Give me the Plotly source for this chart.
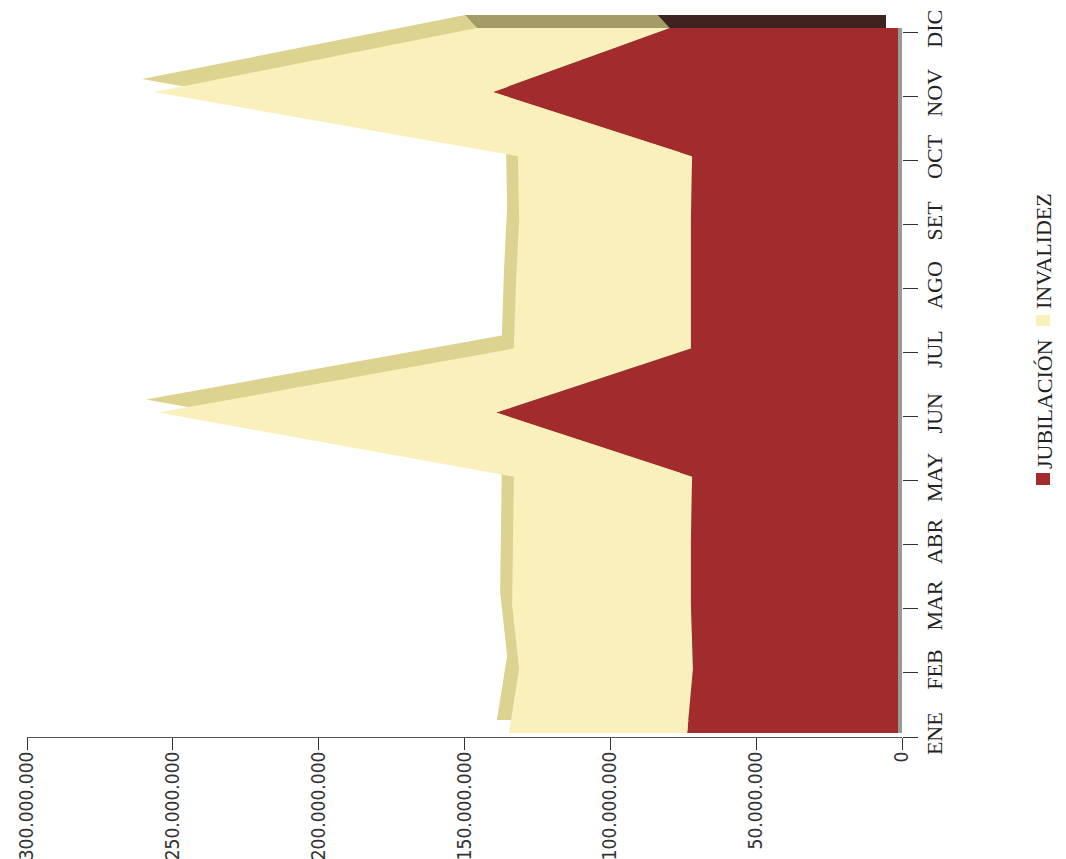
import plotly.graph_objects as go

# ---- data ----
meses = ["ENE", "FEB", "MAR", "ABR", "MAY", "JUN", "JUL", "AGO", "SET", "OCT", "NOV", "DIC"]
jubilacion = [72.3e6, 70.3e6, 71.0e6, 71.0e6, 70.6e6, 137.8e6, 71.0e6, 71.0e6, 71.0e6, 70.6e6, 138.9e6, 78.2e6]
invalidez = [61.1e6, 59.6e6, 61.3e6, 61.0e6, 61.1e6, 115.9e6, 60.7e6, 60.0e6, 58.9e6, 59.7e6, 116.2e6, 66.1e6]
valor_ticks = [0, 50e6, 100e6, 150e6, 200e6, 250e6, 300e6]

# ---- styling ----
W, H = 1066, 859
C_JUB = "#A22B2E"
C_INV = "#F9F0BB"
C_INV_SIDE = "#DCD391"
C_INV_CAP = "#A49C67"
C_JUB_CAP = "#3D2421"
C_WALL = "#9A9A9A"

VMAX = 300e6
idx = list(range(len(meses)))
total = [a + b for a, b in zip(jubilacion, invalidez)]

def xdom(l, r):
    return [l / W, r / W]

def ydom(b, t):
    return [1 - b / H, 1 - t / H]

main_x, main_y = xdom(27, 902), ydom(737, 32)
front_x, front_y = xdom(23, 898), ydom(733, 28)
back_x, back_y = xdom(11, 886), ydom(720, 15)

# depth of the 3D extrusion expressed in back-axis data units
dpx, dpy = 12, 13
dxv = dpx * VMAX / (886 - 11)
dyv = dpy * (len(meses) - 1) / (720 - 15)

fig = go.Figure()

# back (depth) faces on x/y
fig.add_trace(go.Scatter(x=jubilacion, y=idx, stackgroup="b", orientation="h",
                         mode="lines", line=dict(width=0), fillcolor=C_JUB_CAP,
                         hoverinfo="skip", showlegend=False, xaxis="x", yaxis="y"))
fig.add_trace(go.Scatter(x=invalidez, y=idx, stackgroup="b", orientation="h",
                         mode="lines", line=dict(width=0), fillcolor=C_INV_SIDE,
                         hoverinfo="skip", showlegend=False, xaxis="x", yaxis="y"))
n = len(meses) - 1
fig.add_trace(go.Scatter(
    x=[total[n], jubilacion[n], jubilacion[n] - dxv, total[n] - dxv, total[n]],
    y=[n, n, n - dyv, n - dyv, n], fill="toself", mode="lines", line=dict(width=0),
    fillcolor=C_INV_CAP, hoverinfo="skip", showlegend=False, xaxis="x", yaxis="y"))
fig.add_trace(go.Scatter(
    x=[jubilacion[n], 0, -dxv, jubilacion[n] - dxv, jubilacion[n]],
    y=[n, n, n - dyv, n - dyv, n], fill="toself", mode="lines", line=dict(width=0),
    fillcolor=C_JUB_CAP, hoverinfo="skip", showlegend=False, xaxis="x", yaxis="y"))

# front faces on x2/y2
fig.add_trace(go.Scatter(x=jubilacion, y=idx, stackgroup="f", orientation="h",
                         mode="lines", line=dict(width=0), fillcolor=C_JUB,
                         name="JUBILACIÓN", showlegend=False, xaxis="x2", yaxis="y2"))
fig.add_trace(go.Scatter(x=invalidez, y=idx, stackgroup="f", orientation="h",
                         mode="lines", line=dict(width=0), fillcolor=C_INV,
                         name="INVALIDEZ", showlegend=False, xaxis="x2", yaxis="y2"))

# empty trace so that the labelled axes (x3/y3) are drawn
fig.add_trace(go.Scatter(x=[], y=[], mode="lines", hoverinfo="skip", showlegend=False,
                         xaxis="x3", yaxis="y3"))

hidden = dict(showgrid=False, zeroline=False, showticklabels=False, ticks="",
              showline=False, automargin=False)

fig.update_layout(
    width=W, height=H,
    margin=dict(l=0, r=0, t=0, b=0, autoexpand=False),
    paper_bgcolor="white", plot_bgcolor="rgba(0,0,0,0)",
    separators=",.",
    showlegend=False,
    xaxis=dict(domain=back_x, range=[VMAX, 0], anchor="y", **hidden),
    yaxis=dict(domain=back_y, range=[0, n], anchor="x", **hidden),
    xaxis2=dict(domain=front_x, range=[VMAX, 0], anchor="y2", **hidden),
    yaxis2=dict(domain=front_y, range=[0, n], anchor="x2", side="right",
                showgrid=False, zeroline=False, showticklabels=False, ticks="",
                showline=True, linecolor=C_WALL, linewidth=4, automargin=False),
    xaxis3=dict(domain=main_x, range=[VMAX, 0], anchor="y3", side="bottom",
                tickmode="array", tickvals=valor_ticks, tickformat=",d",
                tickangle=-90, ticks="outside", ticklen=12, tickcolor="#333", tickwidth=1,
                ticklabelstandoff=-6,
                showline=True, linecolor="#555", linewidth=1,
                showgrid=False, zeroline=False, automargin=False,
                tickfont=dict(family="DejaVu Sans Condensed, sans-serif",
                              size=19, color="#333")),
    yaxis3=dict(domain=main_y, range=[0, n], anchor="x3", side="right",
                tickmode="array", tickvals=idx, ticktext=meses,
                tickangle=-90, ticks="outside", ticklen=15, tickcolor="#333", tickwidth=1,
                ticklabelstandoff=-2,
                showline=False, showgrid=False, zeroline=False, automargin=False,
                tickfont=dict(family="Liberation Serif, serif", size=22, color="#222")),
)

def px(xp):
    return xp / W

def py(yp):
    return 1 - yp / H

# legend (rotated like the rest of the chart)
fig.add_shape(type="rect", xref="paper", yref="paper", x0=px(1036), x1=px(1050),
              y0=py(485), y1=py(473), fillcolor=C_JUB, line=dict(width=0))
fig.add_shape(type="rect", xref="paper", yref="paper", x0=px(1036), x1=px(1050),
              y0=py(326), y1=py(315), fillcolor=C_INV, line=dict(width=0))
leg_font = dict(family="Liberation Serif, serif", size=22, color="#222")
fig.add_annotation(x=px(1044), y=py(404), xref="paper", yref="paper", text="JUBILACIÓN",
                   textangle=-90, showarrow=False, xanchor="center", yanchor="middle", font=leg_font)
fig.add_annotation(x=px(1044), y=py(251), xref="paper", yref="paper", text="INVALIDEZ",
                   textangle=-90, showarrow=False, xanchor="center", yanchor="middle", font=leg_font)

fig.write_html("out.html", config={"displayModeBar": False},
               post_script="document.body.style.margin='0';document.body.style.overflow='hidden';")
